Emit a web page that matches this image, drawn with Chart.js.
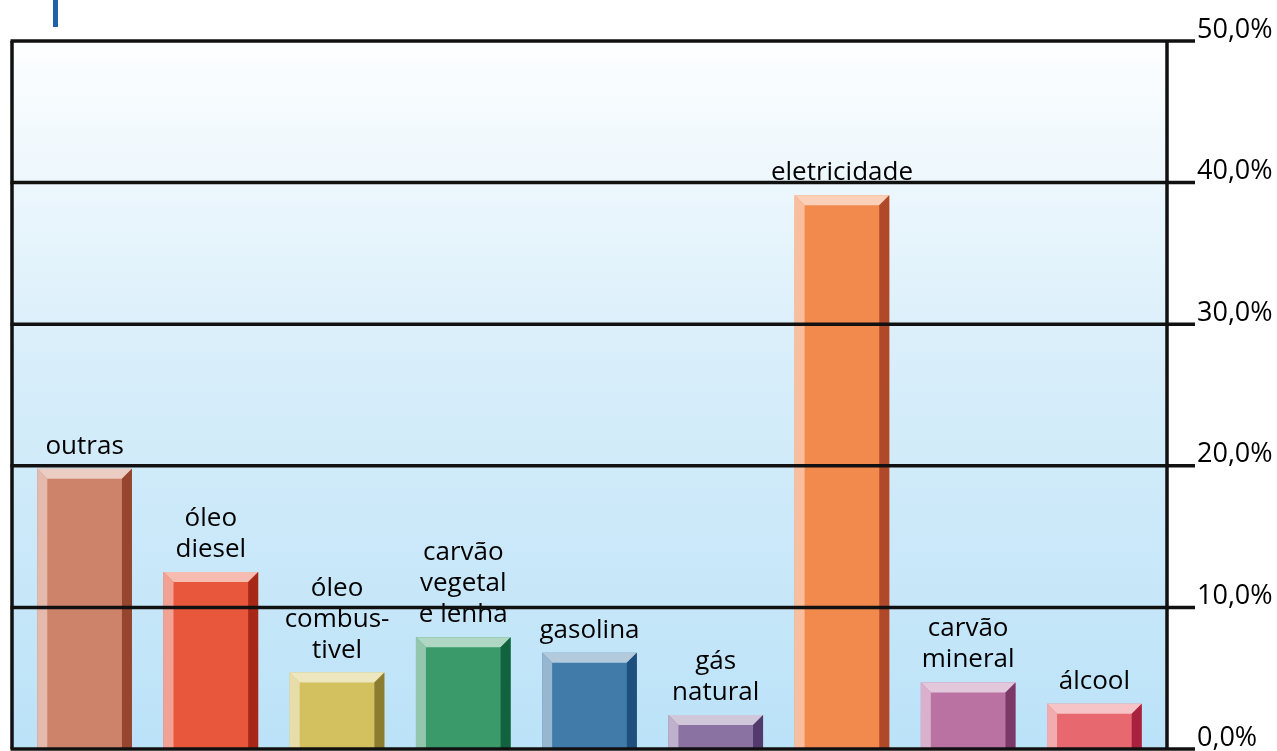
<!DOCTYPE html>
<html>
<head>
<meta charset="utf-8">
<script src="https://cdn.jsdelivr.net/npm/chart.js@4.4.0/dist/chart.umd.min.js"></script>
<style>
html, body { margin: 0; padding: 0; background: #fff; }
#caixa { width: 1277px; height: 751px; position: relative; }
</style>
</head>
<body>
<div id="caixa"><canvas id="graficoEnergia"></canvas></div>
<script>
// dados
var categorias = [["outras"], ["óleo", "diesel"], ["óleo", "combus-", "tivel"], ["carvão", "vegetal", "e lenha"],
    ["gasolina"], ["gás", "natural"], ["eletricidade"], ["carvão", "mineral"], ["álcool"]];
var valores = [19.8, 12.5, 5.4, 7.9, 6.8, 2.4, 39.1, 4.7, 3.2];
var rotulosY = ["0,0%", "10,0%", "20,0%", "30,0%", "40,0%", "50,0%"];
var cores = ["#CD826A", "#E8563C", "#D3C160", "#3A9A69", "#417BAA", "#8A72A2", "#F2894D", "#BA72A2", "#E86870"];
var coresEscuras = ["#96452F", "#A82818", "#8C7C30", "#12613F", "#1F4F7C", "#533A6C", "#B0492A", "#7B3968", "#A8213F"];

var fonte = "'Open Sans', sans-serif";

function clarear(hex, f) {
    var n = parseInt(hex.slice(1), 16);
    var r = (n >> 16) & 255, g = (n >> 8) & 255, b = n & 255;
    r = Math.round(r + (255 - r) * f);
    g = Math.round(g + (255 - g) * f);
    b = Math.round(b + (255 - b) * f);
    return "rgb(" + r + "," + g + "," + b + ")";
}

function poligono(ctx, pts) {
    ctx.beginPath();
    ctx.moveTo(pts[0], pts[1]);
    for (var k = 2; k < pts.length; k += 2) ctx.lineTo(pts[k], pts[k + 1]);
    ctx.closePath();
    ctx.fill();
}

var moldura = {
    id: "moldura",
    beforeDatasetsDraw: function (chart) {
        var ctx = chart.ctx, a = chart.chartArea;
        var esq = a.left - 9.5, dir = a.right + 9.5;
        var grad = ctx.createLinearGradient(0, a.top, 0, a.bottom);
        grad.addColorStop(0, "#FDFEFF");
        grad.addColorStop(0.45, "#D8EEFA");
        grad.addColorStop(1, "#BBE2F8");
        ctx.save();
        ctx.fillStyle = grad;
        ctx.fillRect(esq, a.top, dir - esq, a.bottom - a.top);
        // marca azul no canto
        ctx.fillStyle = "#1E63AA";
        ctx.fillRect(esq + 41, 0, 5, 27);
        ctx.restore();
    },
    afterDatasetsDraw: function (chart) {
        var ctx = chart.ctx, a = chart.chartArea;
        var meta = chart.getDatasetMeta(0);
        var d = 10;
        ctx.save();
        // efeito 3D das barras
        meta.data.forEach(function (bar, i) {
            var p = bar.getProps(["x", "y", "base", "width"], true);
            var l = p.x - p.width / 2, r = p.x + p.width / 2, t = p.y, b = p.base;
            ctx.fillStyle = clarear(cores[i], 0.6);
            poligono(ctx, [l, t, r, t, r - d, t + d, l + d, t + d]);
            ctx.fillStyle = clarear(cores[i], 0.45);
            poligono(ctx, [l, t, l + d, t + d, l + d, b, l, b]);
            ctx.fillStyle = coresEscuras[i];
            poligono(ctx, [r, t, r, b, r - d, b, r - d, t + d]);
        });
        // rotulos das barras
        ctx.fillStyle = "#000";
        ctx.font = "26px " + fonte;
        ctx.textAlign = "center";
        ctx.textBaseline = "alphabetic";
        meta.data.forEach(function (bar, i) {
            var p = bar.getProps(["x", "y"], true);
            var linhas = categorias[i];
            for (var j = 0; j < linhas.length; j++) {
                ctx.fillText(linhas[j], p.x, p.y - 15 - (linhas.length - 1 - j) * 31);
            }
        });
        // grade e moldura
        var escala = chart.scales.y;
        var esq = a.left - 9.5, dir = a.right + 9.5;
        ctx.strokeStyle = "#111";
        ctx.lineWidth = 3.5;
        escala.ticks.forEach(function (tk) {
            var y = escala.getPixelForValue(tk.value);
            ctx.beginPath();
            ctx.moveTo(esq - 1.5, y);
            ctx.lineTo(dir + 28, y);
            ctx.stroke();
        });
        ctx.beginPath();
        ctx.moveTo(esq, a.top);
        ctx.lineTo(esq, a.bottom);
        ctx.moveTo(dir, a.top);
        ctx.lineTo(dir, a.bottom);
        ctx.stroke();
        ctx.restore();
    }
};

var ctx = document.getElementById("graficoEnergia");
var grafico = new Chart(ctx, {
    type: "bar",
    data: {
        labels: categorias.map(function (c) { return c.join(" "); }),
        datasets: [{
            label: "consumo",
            data: valores,
            backgroundColor: cores,
            borderWidth: 0,
            categoryPercentage: 1,
            barPercentage: 0.75
        }]
    },
    options: {
        responsive: true,
        maintainAspectRatio: false,
        animation: false,
        layout: { padding: { left: 21.5, top: 41, bottom: 2, right: 0 } },
        plugins: { legend: { display: false }, tooltip: { enabled: false } },
        scales: {
            x: { display: false },
            y: {
                position: "right",
                min: 0,
                max: 50,
                border: { display: false },
                grid: { display: false, drawTicks: false },
                afterFit: function (scale) {
                    scale.width = 119.5;
                    scale.paddingTop = 0;
                    scale.paddingBottom = 0;
                },
                ticks: {
                    stepSize: 10,
                    padding: 39.5,
                    labelOffset: -11,
                    color: "#000",
                    font: { family: fonte, size: 27 },
                    callback: function (v) { return rotulosY[v / 10]; }
                }
            }
        }
    },
    plugins: [moldura]
});
</script>
</body>
</html>
